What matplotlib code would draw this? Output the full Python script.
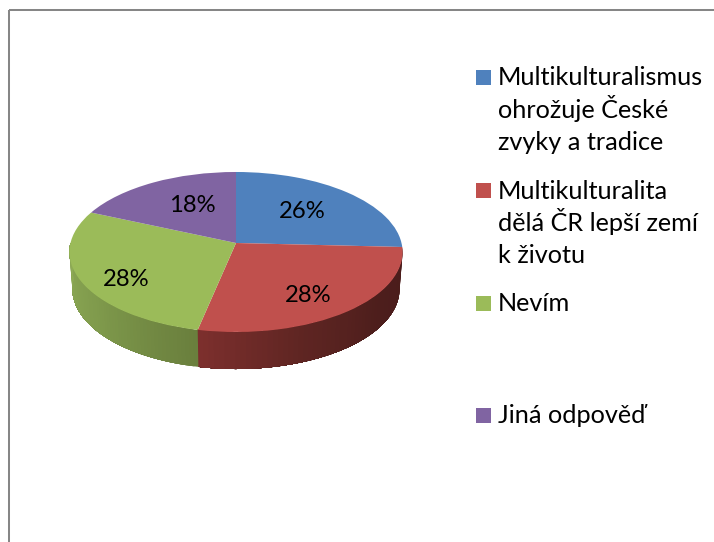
import numpy as np
import matplotlib
matplotlib.use("Agg")
import matplotlib.pyplot as plt
from matplotlib.colors import LinearSegmentedColormap
from matplotlib.patches import Rectangle
from matplotlib.transforms import Transform

plt.rcParams['font.family'] = ['Lato', 'Open Sans', 'DejaVu Sans']

# data
categories = ["Multikulturalismus ohrožuje České zvyky a tradice",
              "Multikulturalita dělá ČR lepší zemí k životu",
              "Nevím", "Jiná odpověď"]
values = [25.8, 27.5, 28.3, 18.4]
value_labels = ["26%", "28%", "28%", "18%"]
colors = ["#4F81BD", "#C0504D", "#9BBB59", "#8064A2"]

# layout (pixels)
W, H = 714, 542
CX, CY = 236, 243
RX, RY, K = 165.5, 79.0, 0.1125
DEPTH, BOTTOM_SCALE = 37, 0.982
label_xy = [(302, 212), (308, 295), (126, 280), (192, 206)]
legend_lines = [
    (["Multikulturalismus", "ohrožuje České", "zvyky a tradice"], [85, 118, 150], 77.5),
    (["Multikulturalita", "dělá ČR lepší zemí", "k životu"], [199, 231, 263], 190.5),
    (["Nevím"], [311], 303.5),
    (["Jiná odpověď"], [423], 415.5),
]
FS_LABEL = 17.2
FS_LEGEND = 18.2


def project(pts):
    pts = np.asarray(pts, float)
    X, Y = pts[..., 0], pts[..., 1]
    w = 1 + K * Y
    return np.stack([CX + RX * X / w, CY - RY * Y / w], axis=-1)


class TiltTransform(Transform):
    input_dims = output_dims = 2
    is_affine = False

    def transform_non_affine(self, values):
        return project(values)


fig = plt.figure(figsize=(W / 100, H / 100), dpi=100, facecolor="white")
ax = fig.add_axes([0, 0, 1, 1])

wedges, _ = ax.pie(values, colors=colors, startangle=90, counterclock=False,
                   radius=1, wedgeprops=dict(linewidth=0))
tilt = TiltTransform() + ax.transData
for w in wedges:
    w.set_transform(tilt)
    w.set_zorder(3)
ax.set_aspect("auto")
ax.set_xlim(0, W)
ax.set_ylim(H, 0)
ax.axis("off")

# side wall, from the same slice angles
side_maps = {
    1: LinearSegmentedColormap.from_list("r", ["#4A1C1B", "#4D1E1C", "#5E2522", "#7C2F2D"]),
    2: LinearSegmentedColormap.from_list("g", ["#6A7F3D", "#7F9A4C", "#8EAB56"]),
}
edges = 90 - np.cumsum([0] + values) * 3.6
for i, cmap in side_maps.items():
    a0 = edges[i]
    a1 = max(edges[i + 1], -180)
    ts = np.linspace(a0, a1, 60)
    rad = np.radians(ts)
    top = project(np.stack([np.cos(rad), np.sin(rad)], axis=1))
    bot = top.copy()
    bot[:, 0] = CX + (top[:, 0] - CX) * BOTTOM_SCALE
    bot[:, 1] = top[:, 1] + DEPTH
    # the slice's side is filled strip by strip, each overlapping the next,
    # so no light seams show between the gradient steps
    for j in range(len(ts) - 1):
        c = cmap(j / (len(ts) - 2))
        k = len(ts) - 1
        quad = np.vstack([top[j:k + 1], bot[j:k + 1][::-1]])
        ax.fill(quad[:, 0], quad[:, 1], color=c, lw=0, zorder=2)

for txt, (x, y) in zip(value_labels, label_xy):
    ax.text(x, y, txt, fontsize=FS_LABEL, ha="center", va="center", color="black", zorder=5)

# legend
for (lines, bases, my), c in zip(legend_lines, colors):
    ax.add_patch(Rectangle((476, my - 7.5), 15, 15, facecolor=c, edgecolor="none", zorder=4))
    for s, b in zip(lines, bases):
        ax.text(498, b, s, fontsize=FS_LEGEND, ha="left", va="baseline", color="black", zorder=5)

# chart frame
ax.plot([9, 9], [H, 10], color="#868686", lw=1.45, zorder=6, solid_capstyle="butt")
ax.plot([9, W], [10, 10], color="#868686", lw=1.45, zorder=6, solid_capstyle="butt")

fig.savefig("out.png", dpi=100)
